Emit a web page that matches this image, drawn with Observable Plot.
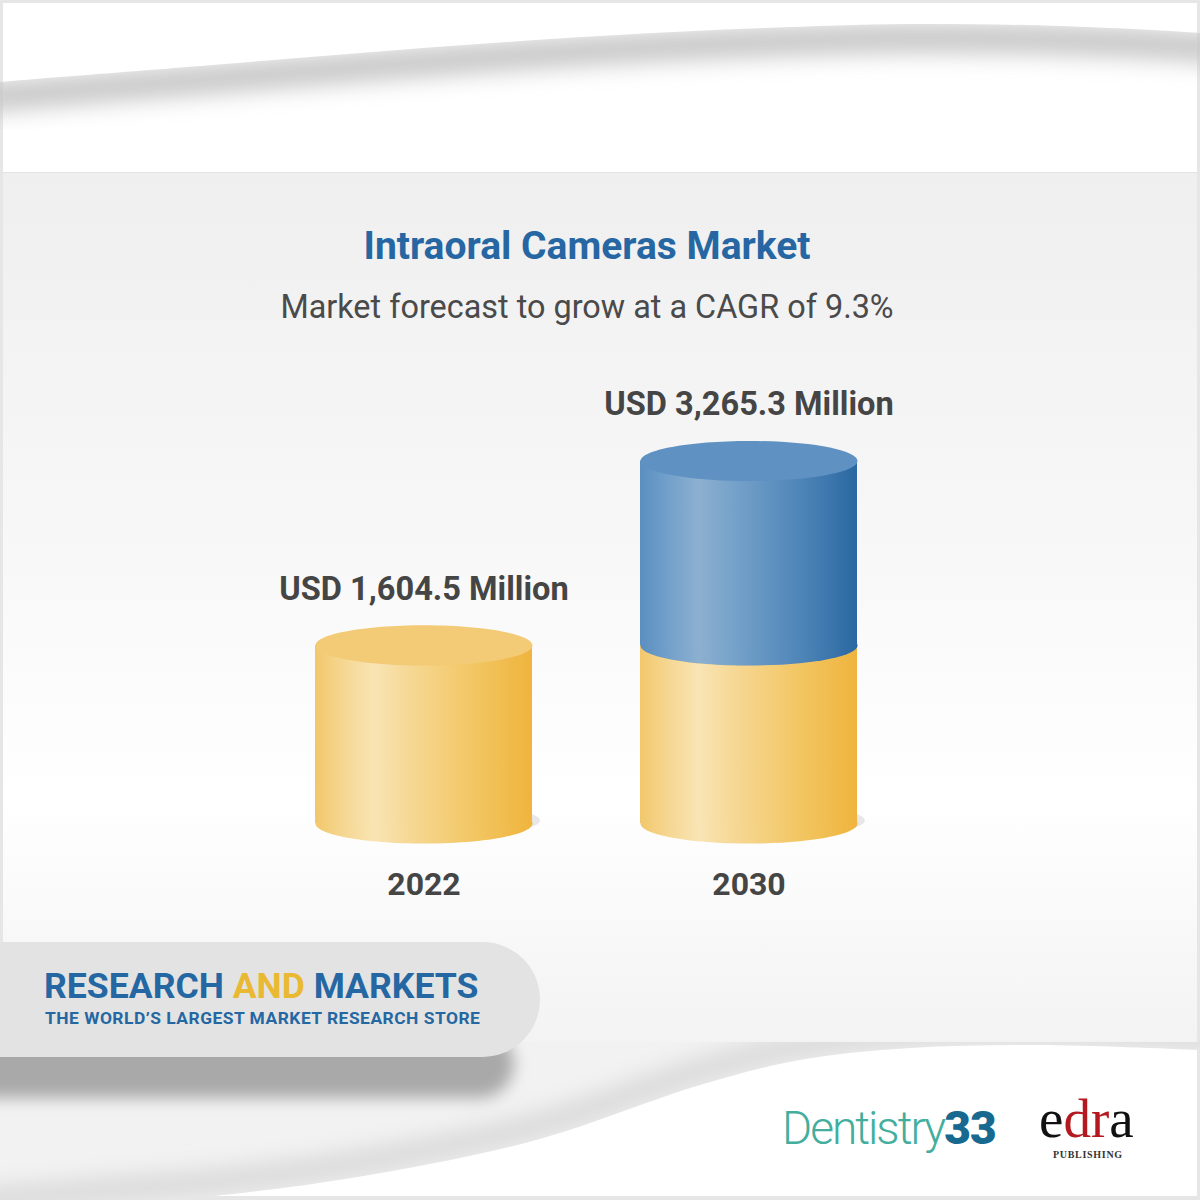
<!DOCTYPE html>
<html>
<head>
<meta charset="utf-8">
<script src="https://cdn.jsdelivr.net/npm/d3@7"></script>
<script src="https://cdn.jsdelivr.net/npm/@observablehq/plot@0.6"></script>
<style>
  html, body { margin: 0; padding: 0; background: #fff; }
  #page { position: relative; width: 1200px; height: 1200px; overflow: hidden; font-family: Roboto, "Noto Sans", sans-serif; }
  #bg { position: absolute; left: 0; top: 0; }
  .abs { position: absolute; white-space: nowrap; line-height: 1; }
  #title { left: 0; width: 1174px; top: 227px; text-align: center; font-size: 39px; font-weight: 700; color: #2667a3; }
  #subtitle { left: 0; width: 1174px; top: 291px; text-align: center; font-size: 32.4px; font-weight: 400; color: #4a4a4a; }
  #chart { position: absolute; left: 0; top: 360px; width: 1200px; height: 560px; }
  #banner { position: absolute; left: 0; top: 942px; width: 540px; height: 115px; background: #e3e3e3; border-radius: 0 58px 58px 0; }
  #rm1 { left: 44px; top: 969px; font-size: 35.6px; font-weight: 700; color: #2467a2; }
  #rm1 .and { color: #e9b934; }
  #rm2 { left: 45px; top: 1010px; font-size: 17.4px; font-weight: 700; color: #2467a2; letter-spacing: 0.5px; }
  #dent { left: 782px; top: 1105px; font-size: 46px; color: #43ae9d; font-weight: 300; letter-spacing: -2px; }
  #dent b { color: #17698f; font-weight: 900; letter-spacing: -1px; }
  #edra { left: 1039px; top: 1096px; height: 46px; line-height: 46px; font-family: "Liberation Serif", "DejaVu Serif", serif; font-size: 55px; color: #111; letter-spacing: 0px; }
  #edra .red { color: #b3191f; }
  #pub { left: 1053px; top: 1150px; font-family: "Liberation Serif", "DejaVu Serif", serif; font-size: 10px; font-weight: 700; color: #333; letter-spacing: 0.7px; }
</style>
</head>
<body>
<div id="page">
  <svg id="bg" width="1200" height="1200"></svg>
  <div id="title" class="abs">Intraoral Cameras Market</div>
  <div id="subtitle" class="abs">Market forecast to grow at a CAGR of 9.3%</div>
  <div id="chart"></div>
  <div id="banner"></div>
  <div id="rm1" class="abs">RESEARCH <span class="and">AND</span> MARKETS</div>
  <div id="rm2" class="abs">THE WORLD’S LARGEST MARKET RESEARCH STORE</div>
  <div id="dent" class="abs">Dentistry<b>33</b></div>
  <div id="edra" class="abs">e<span class="red">dr</span>a</div>
  <div id="pub" class="abs">PUBLISHING</div>
</div>
<script>
// ---------- DATA ----------
const years = ["2022", "2030"];
const totals = [1604.5, 3265.3];
const totalLabels = ["USD 1,604.5 Million", "USD 3,265.3 Million"];
const segmentYears = ["2022", "2030", "2030"];
const segmentParts = ["base", "base", "growth"];
const segmentValues = [1604.5, 1604.5, 1660.8];

const segments = segmentYears.map((year, i) => ({year, part: segmentParts[i], value: segmentValues[i]}));
const totalsTable = years.map((year, i) => ({year, total: totals[i], label: totalLabels[i]}));

// ---------- BACKGROUND DECORATION ----------
(function drawBackground() {
  const bg = d3.select("#bg");
  const defs = bg.append("defs");
  defs.append("filter").attr("id", "bgBlur").attr("x", "-20%").attr("y", "-50%").attr("width", "140%").attr("height", "200%")
    .append("feGaussianBlur").attr("stdDeviation", 11);
  defs.append("filter").attr("id", "bgBlur2").attr("x", "-20%").attr("y", "-50%").attr("width", "140%").attr("height", "200%")
    .append("feGaussianBlur").attr("stdDeviation", 8);
  const pg = defs.append("linearGradient").attr("id", "panelGrad").attr("x1", 0).attr("y1", 0).attr("x2", 0).attr("y2", 1);
  [[0, "#efefef"], [0.45, "#f8f8f8"], [0.72, "#ffffff"], [1, "#f3f3f3"]].forEach(([o, c]) => pg.append("stop").attr("offset", o).attr("stop-color", c));

  const line = d3.line().curve(d3.curveCatmullRom);
  const topPts = [[-20, 84], [0, 82], [200, 66], [398, 50], [600, 36], [765, 28], [906, 24], [1060, 26], [1200, 33], [1220, 35]];
  const botPts = [[-20, 1215], [100, 1205], [223, 1195], [357, 1177], [536, 1140], [700, 1085], [800, 1060], [910, 1048], [1038, 1045], [1200, 1050], [1220, 1051]];
  const topCurve = line(topPts);
  const botCurve = line(botPts);

  bg.append("rect").attr("width", 1200).attr("height", 1200).attr("fill", "#e6e6e6");
  bg.append("rect").attr("x", 3).attr("y", 3).attr("width", 1194).attr("height", 1193).attr("fill", "#ffffff");

  // top wave
  defs.append("clipPath").attr("id", "belowTop").append("path").attr("d", topCurve + "L1220,172L-20,172Z");
  const tw = bg.append("g").attr("clip-path", "url(#belowTop)");
  tw.append("path").attr("d", line(topPts.map(([x, y]) => [x, y + 14]))).attr("fill", "none")
    .attr("stroke", "#c8c8c8").attr("stroke-width", 30).attr("filter", "url(#bgBlur)");

  // main panel
  bg.append("rect").attr("x", 3).attr("y", 173).attr("width", 1194).attr("height", 869).attr("fill", "url(#panelGrad)");
  bg.append("line").attr("x1", 3).attr("x2", 1197).attr("y1", 172.5).attr("y2", 172.5).attr("stroke", "#e2e2e2");

  // bottom wave
  defs.append("clipPath").attr("id", "aboveBot").append("path").attr("d", botCurve + "L1220,1042L-20,1042Z");
  const bw = bg.append("g").attr("clip-path", "url(#aboveBot)");
  bw.append("rect").attr("x", 0).attr("y", 1042).attr("width", 1200).attr("height", 240).attr("fill", "#f2f2f2");
  bw.append("path").attr("d", line(botPts.map(([x, y]) => [x, y - 14]))).attr("fill", "none")
    .attr("stroke", "#dadada").attr("stroke-width", 26).attr("filter", "url(#bgBlur)");
  // banner shadow
  bw.append("path").attr("d", "M-30,1030L480,1030A34,34 0 0 1 480,1098L-30,1098Z")
    .attr("fill", "#a9a9a9").attr("filter", "url(#bgBlur2)");
})();

// ---------- CHART ----------
const W = 1200, H = 560, ML = 152, MR = 180, MT = 19, MB = 97;
const PAD_IN = 1 / 3, PAD_OUT = 0.5;
const band = d3.scaleBand().domain(years).range([ML, W - MR]).paddingInner(PAD_IN).paddingOuter(PAD_OUT);
const R = band.bandwidth() / 2;
const FLAT = 0.185;
const K = 0.5522847;
const ellipse = {
  draw(ctx, size) {
    const rx = Math.sqrt(size / Math.PI), ry = rx * FLAT;
    ctx.moveTo(rx, 0);
    ctx.bezierCurveTo(rx, K * ry, K * rx, ry, 0, ry);
    ctx.bezierCurveTo(-K * rx, ry, -rx, K * ry, -rx, 0);
    ctx.bezierCurveTo(-rx, -K * ry, -K * rx, -ry, 0, -ry);
    ctx.bezierCurveTo(K * rx, -ry, rx, -K * ry, rx, 0);
    ctx.closePath();
  }
};

const bodyFill = {base: "url(#cylYellow)", growth: "url(#cylBlue)"};
const capFill = {base: "#f3ca75", growth: "#5f92c2"};

function layer(part) {
  const sel = (d) => d.part === part;
  return [
    Plot.dot(segments, Plot.filter(sel, Plot.stackY1({x: "year", y: "value", r: R, symbol: ellipse, fill: bodyFill[part]}))),
    Plot.barY(segments, Plot.filter(sel, Plot.stackY({x: "year", y: "value", fill: bodyFill[part]}))),
    Plot.dot(segments, Plot.filter(sel, Plot.stackY2({x: "year", y: "value", r: R, symbol: ellipse, fill: capFill[part]})))
  ];
}

const chart = Plot.plot({
  width: W, height: H,
  marginLeft: ML, marginRight: MR, marginTop: MT, marginBottom: MB,
  x: {domain: years, paddingInner: PAD_IN, paddingOuter: PAD_OUT, axis: null},
  y: {domain: [0, 4000], axis: null},
  style: {background: "transparent", overflow: "visible", fontFamily: "Roboto, sans-serif"},
  marks: [
    Plot.dot(totalsTable, {x: "year", y: 0, r: R * 0.7, symbol: ellipse, dx: 40, dy: -3, fill: "#000", fillOpacity: 0.09, ariaLabel: "cylinder shadow"}),
    ...layer("base"),
    ...layer("growth"),
    Plot.text(totalsTable, {x: "year", y: "total", text: "label", dy: -56, fontSize: 32.6, fontWeight: 700, fill: "#454545"}),
    Plot.text(totalsTable, {x: "year", text: "year", frameAnchor: "bottom", dy: 71, fontSize: 32, fontWeight: 700, fill: "#454545"})
  ]
});

const defs = d3.select(chart).insert("defs", ":first-child");
const gy = defs.append("linearGradient").attr("id", "cylYellow").attr("x1", 0).attr("y1", 0).attr("x2", 1).attr("y2", 0);
[[0, "#f2c76c"], [0.12, "#f5d68f"], [0.27, "#f9e4b4"], [0.45, "#f6d792"], [0.75, "#f2c560"], [1, "#efb43d"]]
  .forEach(([o, c]) => gy.append("stop").attr("offset", o).attr("stop-color", c));
const gb = defs.append("linearGradient").attr("id", "cylBlue").attr("x1", 0).attr("y1", 0).attr("x2", 1).attr("y2", 0);
[[0, "#5b8fc0"], [0.12, "#709fca"], [0.27, "#8db0d0"], [0.45, "#73a0c9"], [0.75, "#4d84b7"], [1, "#2a68a1"]]
  .forEach(([o, c]) => gb.append("stop").attr("offset", o).attr("stop-color", c));
defs.append("filter").attr("id", "shadowBlur").attr("x", "-50%").attr("y", "-300%").attr("width", "200%").attr("height", "700%")
  .append("feGaussianBlur").attr("stdDeviation", 9);
d3.select(chart).selectAll('[aria-label="cylinder shadow"]').attr("filter", "url(#shadowBlur)");

document.getElementById("chart").appendChild(chart);
</script>
</body>
</html>
